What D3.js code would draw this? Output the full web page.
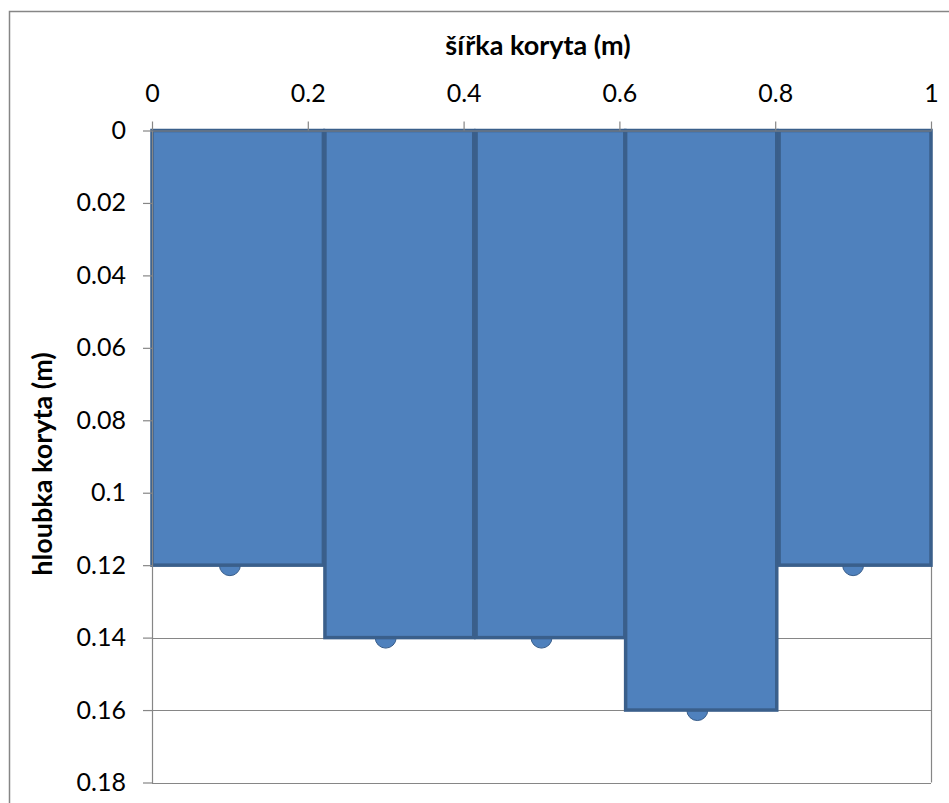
<!DOCTYPE html>
<html>
<head>
<meta charset="utf-8">
<script src="https://cdn.jsdelivr.net/npm/d3@7"></script>
<style>
  html, body { margin: 0; padding: 0; background: #fff; }
  svg { display: block; }
  text { font-family: Lato, "Open Sans", sans-serif; fill: #000; }
</style>
</head>
<body>
<svg id="chart" width="949" height="803"></svg>
<script>
// ---- data ----
const pointX = [0.1, 0.3, 0.5, 0.7, 0.9];          // šířka (m)
const depth = [0.12, 0.14, 0.14, 0.16, 0.12];       // hloubka (m)
const barLeft = [0.0, 0.222, 0.416, 0.608, 0.805];  // left edge of each block (m)
const barRight = [0.22, 0.413, 0.607, 0.802, 1.0];  // right edge of each block (m)
const xTicks = [0, 0.2, 0.4, 0.6, 0.8, 1];
const yTicks = [0, 0.02, 0.04, 0.06, 0.08, 0.1, 0.12, 0.14, 0.16, 0.18];
const xTitle = "šířka koryta (m)";
const yTitle = "hloubka koryta (m)";

const svg = d3.select("#chart");
const W = 949, H = 803;
const plot = { left: 152, right: 931, top: 130.5, bottom: 782.5 };

const x = d3.scaleLinear().domain([0, 1]).range([plot.left, plot.right]);
const y = d3.scaleLinear().domain([0, 0.18]).range([plot.top, plot.bottom]);

const axisColor = "#868686";

// chart outer border
svg.append("rect")
  .attr("x", 9.5).attr("y", 11.5)
  .attr("width", W + 20).attr("height", H + 20)
  .attr("fill", "none").attr("stroke", axisColor).attr("stroke-width", 1.5);

// gridlines
svg.append("g").selectAll("line")
  .data(yTicks.slice(1))
  .join("line")
  .attr("x1", plot.left).attr("x2", plot.right)
  .attr("y1", d => Math.round(y(d)) + 0.5).attr("y2", d => Math.round(y(d)) + 0.5)
  .attr("stroke", axisColor).attr("stroke-width", 1.2);

// plot area right border
svg.append("line")
  .attr("x1", plot.right + 0.5).attr("x2", plot.right + 0.5)
  .attr("y1", plot.top).attr("y2", plot.bottom)
  .attr("stroke", axisColor).attr("stroke-width", 1.2);

// points (drawn beneath the blocks)
svg.append("g").selectAll("circle")
  .data(pointX.map((px, i) => ({ px, d: depth[i] })))
  .join("circle")
  .attr("cx", d => x(d.px))
  .attr("cy", d => y(d.d))
  .attr("r", 10.5)
  .attr("fill", "#4F81BD")
  .attr("stroke", "#385D8A")
  .attr("stroke-width", 1);

// blocks
svg.append("g").selectAll("rect")
  .data(depth.map((d, i) => ({ d, l: barLeft[i], r: barRight[i] })))
  .join("rect")
  .attr("x", d => x(d.l))
  .attr("y", y(0))
  .attr("width", d => x(d.r) - x(d.l))
  .attr("height", d => y(d.d) - y(0))
  .attr("fill", "#4F81BD")
  .attr("stroke", "#3A5F8B")
  .attr("stroke-width", 3.5);

// x axis (top)
const xAxis = d3.axisTop(x)
  .tickValues(xTicks)
  .tickFormat(d => d3.format("")(d))
  .tickSizeInner(9).tickSizeOuter(0).tickPadding(20);
const gx = svg.append("g")
  .attr("transform", `translate(0,${plot.top})`)
  .call(xAxis);
gx.select(".domain").attr("stroke", axisColor).attr("stroke-width", 1.2);
gx.selectAll(".tick line").attr("stroke", axisColor).attr("stroke-width", 1.2);
gx.selectAll(".tick text")
  .attr("font-family", "Lato, sans-serif").attr("font-size", 25).attr("fill", "#000");

// y axis (left)
const yAxis = d3.axisLeft(y)
  .tickValues(yTicks)
  .tickFormat(d => d3.format("")(+d.toFixed(2)))
  .tickSizeInner(9).tickSizeOuter(0).tickPadding(17);
const gy = svg.append("g")
  .attr("transform", `translate(${plot.left},0)`)
  .call(yAxis);
gy.select(".domain").attr("stroke", axisColor).attr("stroke-width", 1.2);
gy.selectAll(".tick line").attr("stroke", axisColor).attr("stroke-width", 1.2);
gy.selectAll(".tick text")
  .attr("font-family", "Lato, sans-serif").attr("font-size", 25).attr("fill", "#000");

// titles
svg.append("text")
  .attr("x", 538).attr("y", 55)
  .attr("text-anchor", "middle")
  .attr("font-size", 27).attr("font-weight", "bold")
  .text(xTitle);

svg.append("text")
  .attr("transform", `translate(52,464) rotate(-90)`)
  .attr("text-anchor", "middle")
  .attr("font-size", 27).attr("font-weight", "bold")
  .text(yTitle);
</script>
</body>
</html>
